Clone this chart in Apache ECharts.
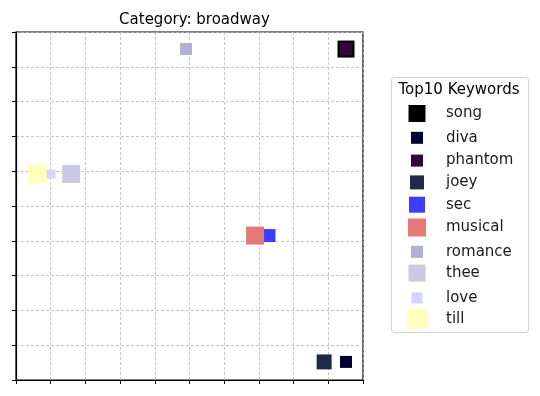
<!DOCTYPE html>
<html><head><meta charset="utf-8">
<script src="https://cdn.jsdelivr.net/npm/echarts@6/dist/echarts.min.js"></script>
<style>html,body{margin:0;padding:0;background:#fff}#c{width:540px;height:396px}</style>
</head><body><div id="c"></div>
<script>
// Data
const keywords = ['song','diva','phantom','joey','sec','musical','romance','thee','love','till'];
const xValues = [9.51, 9.51, 9.51, 8.88, 7.29, 6.89, 4.90, 1.59, 1.01, 0.61];
const yValues = [9.51, 0.52, 9.51, 0.52, 4.15, 4.15, 9.51, 5.92, 5.92, 5.92];
const axisTicks = [0,1,2,3,4,5,6,7,8,9,10];
// Styles
const colors = ['#000000','#000033','#33063a','#1f2a48','#3d3dff','#e57878','#b0b0d6','#ccc9e4','#d4d4f4','#ffffc0'];
const markerSizes = [17, 12, 13, 15, 13, 18, 12, 18, 9, 19];
const legendSizes = [17, 12, 12, 14, 16, 18, 12, 17, 11, 20];
const FONT = 'DejaVu Sans';

const chart = echarts.init(document.getElementById('c'), null, {renderer:'canvas'});
const series = keywords.map((k,i)=>({
  name:k, type:'scatter', symbol:'rect', symbolSize:markerSizes[i],
  data:[[xValues[i], yValues[i]]],
  itemStyle:{color:colors[i], opacity:1},
  emphasis:{disabled:true}, z:2+i
}));
const legendTop0 = 113.5, legendStep = 22.8;
const legends = keywords.map((k,i)=>{
  const s = legendSizes[i];
  return {
    data:[k], icon:'rect', itemWidth:s, itemHeight:s,
    left:417 - s/2, top: legendTop0 + i*legendStep - s/2,
    selectedMode:false, padding:0,
    textStyle:{fontFamily:FONT, fontSize:15, lineHeight:8, color:'#1a1a1a', padding:[0,0,0,24 - s/2]}
  };
});
const axisCommon = {
  type:'value', min:axisTicks[0], max:axisTicks[axisTicks.length-1], interval:1,
  axisLine:{show:true, onZero:false, lineStyle:{color:'#000', width:1.2}},
  axisTick:{show:true, inside:false, length:4, lineStyle:{color:'#000'}},
  axisLabel:{show:false},
  splitLine:{show:true, lineStyle:{color:'#b8b8b8', type:[3,2], width:0.8}}
};
chart.setOption({
  animation:false,
  title:{text:'Category: broadway', left:189.5, top:8, textAlign:'center',
    textStyle:{fontFamily:FONT, fontSize:15, fontWeight:'normal', color:'#000'}},
  grid:{left:16, right:177, top:32, bottom:16, show:true, borderColor:'#000', borderWidth:1.2, backgroundColor:'transparent'},
  xAxis:axisCommon,
  yAxis:axisCommon,
  legend:legends,
  graphic:[
    {type:'rect', shape:{x:391.5, y:77.5, width:137, height:255, r:3},
     style:{fill:'#fff', stroke:'#d0d0d0', lineWidth:1}, z:-1},
    {type:'text', x:459, y:90.5, style:{text:'Top10 Keywords', fontFamily:FONT, fontSize:15,
     fill:'#000', align:'center', verticalAlign:'middle'}}
  ],
  series:series
});
</script></body></html>
